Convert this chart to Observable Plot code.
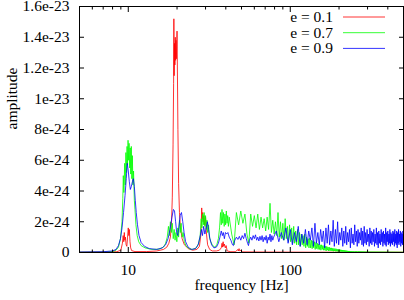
<!DOCTYPE html>
<html><head><meta charset="utf-8">
<script src="https://cdn.jsdelivr.net/npm/d3@7"></script>
<script src="https://cdn.jsdelivr.net/npm/@observablehq/plot@0.6"></script>
<style>
body{margin:0;background:#fff;}
#wrap{width:404px;height:300px;}
</style></head><body><div id="wrap"></div>
<script>
// amplitudes in units of 1e-24
const seriesNames = ["e = 0.1", "e = 0.7", "e = 0.9"];
const seriesColors = ["#ff0000", "#00ff00", "#0000ff"];

const xMajorTicks = [10, 100];
const xMinorTicks = [5,6,7,8,9,20,30,40,50,60,70,80,90,200,300,400];
const yTicks = [0,2,4,6,8,10,12,14,16];
const yTickLabels = ["0","2e-24","4e-24","6e-24","8e-24","1e-23","1.2e-23","1.4e-23","1.6e-23"];

const red = [[5,0.02],[7,0.03],[8.5,0.05],[9.0,0.15],[9.2,0.6],[9.3,1.1],[9.38,0.7],[9.45,1.3],[9.52,0.8],[9.6,1.0],[9.7,0.5],[9.8,0.4],[9.9,1.0],[10.0,1.6],[10.08,1.1],[10.15,1.5],[10.25,0.7],[10.35,0.3],[10.5,0.12],[11,0.06],[13,0.06],[15,0.1],[16.5,0.2],[17.3,0.35],[17.8,0.6],[18.2,1.0],[18.5,2.0],[18.7,3.6],[18.9,7],[19.05,11],[19.12,15.2],[19.2,11.5],[19.3,13.6],[19.4,12.2],[19.5,14.0],[19.6,12.5],[19.7,13.8],[19.8,12.6],[19.9,13.3],[20.0,14.4],[20.1,12.0],[20.25,8],[20.45,4.5],[20.7,2.6],[21.0,1.6],[21.5,0.9],[22.2,0.5],[23.5,0.25],[25,0.15],[26.5,0.2],[27.5,0.4],[28.1,1.2],[28.4,2.9],[28.6,2.2],[28.8,2.6],[29.0,2.0],[29.3,2.4],[29.6,1.8],[30.0,2.3],[30.4,1.2],[30.9,0.5],[31.8,0.2],[33,0.1],[35,0.1],[36.5,0.15],[37.5,0.3],[37.9,0.6],[38.2,0.35],[38.5,0.7],[38.8,0.4],[39.2,0.55],[39.7,0.3],[40.2,0.45],[40.8,0.1],[43,0.05],[46,0.05],[47.4,0.2],[47.8,0.1],[48.3,0.25],[48.8,0.1],[49.5,0.15],[50.5,0.04],[70,0.03],[150,0.02],[500,0.02]];

const greenLow = [[5,0.02],[7,0.03],[8.0,0.06],[8.4,0.15],[8.7,0.35],[8.95,0.9],[9.15,2.0],[9.25,3.5],[9.32,5.0],[9.4,3.9],[9.5,5.8],[9.58,4.4],[9.67,6.5],[9.75,5.2],[9.83,6.9],[9.9,5.7],[9.97,7.3],[10.05,6.0],[10.12,7.1],[10.2,5.5],[10.28,6.8],[10.36,5.1],[10.44,6.9],[10.52,4.8],[10.6,6.3],[10.68,4.4],[10.78,5.3],[10.9,3.4],[11.0,2.8],[11.15,1.8],[11.35,1.1],[11.6,0.7],[12.0,0.45],[12.7,0.3],[14,0.2],[15.5,0.22],[16.5,0.35],[17.0,0.6],[17.4,1.0],[17.7,1.7],[17.95,1.1],[18.2,2.0],[18.45,1.3],[18.7,1.9],[18.95,0.9],[19.2,1.5],[19.45,0.8],[19.7,1.3],[19.95,0.7],[20.2,1.6],[20.45,1.0],[20.7,2.1],[20.95,1.3],[21.2,1.9],[21.5,1.0],[21.8,1.3],[22.2,0.7],[22.8,0.4],[23.8,0.25],[25,0.2],[26.3,0.3],[27.2,0.6],[27.8,1.1],[28.2,2.2],[28.5,1.6],[28.8,2.5],[29.1,1.8],[29.4,2.6],[29.7,1.7],[30.0,2.4],[30.3,1.5],[30.6,2.1],[30.9,1.3],[31.3,1.8],[31.7,1.0],[32.3,0.7],[33.2,0.45],[34.2,0.35],[35.2,0.5],[36.0,0.9],[36.6,1.6],[37.1,2.6],[37.5,1.8],[37.9,2.8],[38.3,1.9],[38.7,2.6],[39.1,1.7],[39.5,2.5],[39.9,1.8],[40.3,2.7],[40.7,1.9],[41.1,2.4],[41.5,1.7]];
// green, frequency bins from 42 Hz every 1.5 Hz
const greenBinStart = 42, greenBinStep = 1.5;
const greenBins = [2.3,1.2,0.5,2.6,1.8,2.7,1.9,2.5,1.2,0.6,
2.5,1.7,2.4,1.6,2.5,1.5,2.3,1.6,2.2,1.4,
2.3,1.5,3.2,1.3,2.1,1.2,2.0,1.1,2.6,1.0,
2.0,0.9,1.9,0.8,2.2,0.9,1.7,0.7,1.8,0.7,
1.6,0.6,1.7,0.6,1.4,0.5,1.5,0.5,1.3,0.4,
1.2,0.5,1.1,0.4,1.2,0.3,1.0,0.4,0.9,0.3,
0.95,0.3,0.8,0.25,0.75,0.3,0.7,0.2,0.65,0.25,
0.6,0.2,0.55,0.2,0.5,0.15,0.5,0.2,0.45,0.15,
0.45,0.15,0.4,0.1,0.4,0.15,0.35,0.1,0.35,0.12,
0.3,0.1,0.3,0.1,0.28,0.08,0.26,0.1,0.25,0.08,
0.24,0.08,0.22,0.07,0.2,0.07,0.2,0.06,0.18,0.06,
0.17,0.05,0.16,0.05,0.15,0.05,0.14,0.04,0.13,0.04,
0.12,0.04,0.11,0.04,0.1,0.03,0.1,0.03,0.09,0.03,
0.08,0.03,0.08,0.03,0.07,0.03,0.07,0.02,0.06];
const greenTail = [[260,0.06],[300,0.04],[400,0.03],[500,0.02]];

const blueLow = [[5,0.03],[7,0.05],[8.0,0.1],[8.4,0.2],[8.7,0.45],[8.95,0.9],[9.15,1.6],[9.35,2.6],[9.55,3.7],[9.72,4.8],[9.86,5.8],[10.0,5.3],[10.15,4.6],[10.3,4.1],[10.45,4.3],[10.6,4.6],[10.75,4.8],[10.9,4.3],[11.05,3.4],[11.2,2.6],[11.4,1.8],[11.65,1.1],[12.0,0.65],[12.6,0.4],[13.5,0.25],[15,0.2],[16.2,0.3],[17.0,0.5],[17.6,0.9],[18.1,1.5],[18.6,2.3],[19.0,2.8],[19.3,2.7],[19.6,2.0],[19.9,1.3],[20.2,1.1],[20.5,1.6],[20.9,2.4],[21.3,2.6],[21.7,2.0],[22.1,1.3],[22.6,0.7],[23.4,0.35],[24.5,0.2],[26,0.25],[27,0.5],[27.7,1.0],[28.3,1.5],[28.7,1.1],[29.2,1.7],[29.7,1.2],[30.3,1.6],[30.8,2.0],[31.3,1.5],[31.9,0.9],[32.7,0.5],[33.8,0.3],[35,0.35],[36,0.6],[36.8,1.0],[37.5,1.4],[38.1,1.1],[38.6,1.3],[39.2,0.9],[39.8,1.3],[40.5,1.2],[41.2,1.3],[42,1.0],[43,0.8],[44,0.5],[44.6,0.45],[45.5,0.8],[46.5,1.0],[47.5,0.85],[48.5,1.05],[49.5,0.8],[50.5,1.1],[51.5,0.9],[52.5,1.25],[53.5,0.9],[54.5,0.6],[55.2,0.45],[56,0.8],[57,1.0],[58,0.8],[59,1.1],[60,0.9],[61,1.15],[62,0.8],[63,1.0],[64,0.75],[65,1.05],[66,0.8],[67,1.1],[68,0.7],[69,1.0],[70,0.8],[71,1.1],[72,0.6],[73,1.0],[74,0.8],[75,1.2],[76,0.7],[77,1.1],[78,0.8]];
// blue, frequency bins from 79 Hz every 3 Hz
const blueBinStart = 79, blueBinStep = 3;
const blueBins = [1.0,1.4,0.7,1.3,0.8,1.6,0.6,1.5,0.5,1.3,
0.7,1.7,0.4,1.2,0.6,1.5,0.5,1.4,0.8,1.6,
0.4,1.9,0.6,1.3,0.5,1.5,0.7,1.4,0.3,1.6,
0.6,1.8,0.5,1.4,0.7,2.1,0.4,1.5,0.6,2.0,
0.5,1.3,0.8,1.6,0.4,1.4,0.6,1.7,0.5,1.3,
0.7,1.5,0.3,1.6,0.6,1.2,0.5,1.8,0.7,1.4,
0.4,1.5,0.6,1.3,0.8,1.6,0.5,1.4,0.4,1.7,
0.6,1.3,0.5,1.5,0.7,1.2,0.4,1.6,0.6,1.4,
0.5,1.3,0.7,1.5,0.4,1.2,0.6,1.6,0.5,1.3,
0.3,1.4,0.6,1.2,0.5,1.5,0.7,1.3,0.4,1.4,
0.6,1.2,0.5,1.6,0.4,1.3,0.7,1.4,0.5,1.2,
0.6,1.5,0.4,1.3,0.6,1.2,0.5,1.4,0.7,1.3,
0.4,1.5,0.6,1.2,0.5,1.4,0.3,1.3,0.6,1.5,
0.5,1.2,0.7,1.4,0.4,1.3,0.6,1.2,0.5,1.4,
0.6];

const green = greenLow.concat(greenBins.map((a,i) => [greenBinStart + i*greenBinStep, a]), greenTail);
const blue = blueLow.concat(blueBins.map((a,i) => [blueBinStart + i*blueBinStep, a]));
const series = [red, green, blue];

const font = '"Liberation Serif", "Times New Roman", serif';
const noLabel = () => "";

const chart = Plot.plot({
  width: 404, height: 300,
  marginLeft: 79, marginRight: 1, marginTop: 6, marginBottom: 48,
  style: {fontFamily: font, fontSize: "15.5px", background: "white", color: "black"},
  x: {type: "log", domain: [5, 500]},
  y: {domain: [0, 16]},
  marks: [
    ...series.map((s, k) => Plot.line(s, {x: d => d[0], y: d => d[1], stroke: seriesColors[k], strokeWidth: 0.8})),
    Plot.frame({stroke: "black", strokeWidth: 1}),
    Plot.axisY(yTicks, {anchor: "left", tickSize: 0, tickPadding: 10, tickFormat: (d) => yTickLabels[yTicks.indexOf(d)], label: null}),
    Plot.axisY(yTicks, {anchor: "left", tickSize: 5, dx: 5, tickFormat: noLabel, label: null}),
    Plot.axisY(yTicks, {anchor: "right", tickSize: 5, dx: -5, tickFormat: noLabel, label: null}),
    Plot.axisX(xMajorTicks, {anchor: "bottom", tickSize: 0, tickPadding: 11, tickFormat: d => String(d), label: null}),
    Plot.axisX(xMajorTicks, {anchor: "bottom", tickSize: 5, dy: -5, tickFormat: noLabel, label: null}),
    Plot.axisX(xMajorTicks, {anchor: "top", tickSize: 5, dy: 5, tickFormat: noLabel, label: null}),
    Plot.axisX(xMinorTicks, {anchor: "bottom", tickSize: 2.5, dy: -2.5, tickFormat: noLabel, label: null}),
    Plot.axisX(xMinorTicks, {anchor: "top", tickSize: 2.5, dy: 2.5, tickFormat: noLabel, label: null}),
    Plot.text(["amplitude"], {frameAnchor: "left", rotate: -90, dx: -67, text: d => d}),
    Plot.text(["frequency [Hz]"], {frameAnchor: "bottom", dy: 37, text: d => d})
  ]
});

// legend inside the frame, top-right
const leg = d3.select(chart).append("g").attr("font-family", font).attr("font-size", "15.5px");
seriesNames.forEach((name, k) => {
  const yy = 17 + k * 15.7;
  leg.append("text").attr("x", 333).attr("y", yy).attr("dy", "0.32em").attr("text-anchor", "end").attr("fill", "black").text(name);
  leg.append("line").attr("x1", 343).attr("x2", 385).attr("y1", yy).attr("y2", yy).attr("stroke", seriesColors[k]).attr("stroke-width", 0.8);
});

document.getElementById("wrap").appendChild(chart);
</script></body></html>
